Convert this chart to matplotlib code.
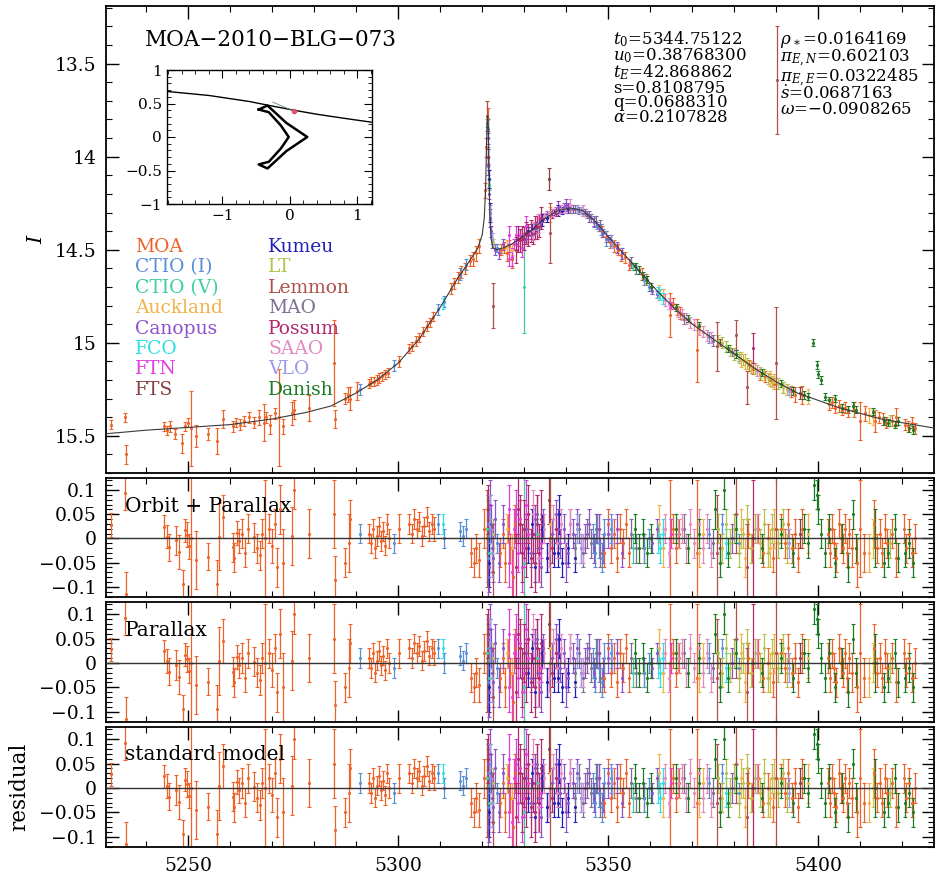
import numpy as np
import matplotlib.pyplot as plt
from matplotlib.ticker import MultipleLocator, FuncFormatter

plt.rcParams['font.family'] = 'DejaVu Serif'
plt.rcParams['mathtext.fontset'] = 'dejavuserif'

# ---- best-fit model light curve (HJD-2450000, I mag) ----
model_t = [5230, 5240, 5250, 5260, 5270, 5278, 5284, 5290, 5295, 5300,
           5305, 5310, 5314, 5317, 5319, 5320, 5320.5, 5320.8, 5321.0, 5321.15,
           5321.3, 5321.45, 5321.6, 5321.8, 5322.1, 5322.6, 5323.5, 5325, 5327, 5329,
           5332, 5335, 5338, 5341, 5344, 5347, 5350, 5354, 5358, 5362,
           5366, 5370, 5375, 5380, 5385, 5390, 5395, 5400, 5405, 5410,
           5415, 5420, 5428]
model_mag = [15.49, 15.47, 15.455, 15.44, 15.41, 15.375, 15.34, 15.27, 15.2, 15.11,
             14.98, 14.81, 14.66, 14.56, 14.49, 14.42, 14.33, 14.18, 13.98, 13.82,
             13.78, 13.83, 14.05, 14.3, 14.44, 14.49, 14.5, 14.49, 14.47, 14.44,
             14.39, 14.33, 14.29, 14.275, 14.29, 14.35, 14.43, 14.53, 14.63, 14.73,
             14.82, 14.9, 14.98, 15.06, 15.14, 15.21, 15.27, 15.31, 15.35, 15.38,
             15.41, 15.43, 15.46]

# ---- photometry per site: (t, mag, err) ----
moa_lc = [
    (5231.8, 15.44, 0.025), (5235.1, 15.40, 0.025), (5235.3, 15.60, 0.05),
    (5244.2, 15.45, 0.025), (5245.0, 15.47, 0.025), (5245.7, 15.45, 0.03), (5247.0, 15.49, 0.025),
    (5248.6, 15.54, 0.05), (5249.2, 15.45, 0.025), (5250.0, 15.43, 0.025), (5250.7, 15.46, 0.20),
    (5251.9, 15.50, 0.06), (5254.7, 15.49, 0.03), (5257.0, 15.53, 0.07), (5258.3, 15.41, 0.05),
    (5260.6, 15.45, 0.03), (5261.4, 15.43, 0.025), (5262.3, 15.44, 0.03), (5263.4, 15.42, 0.025),
    (5264.5, 15.40, 0.03), (5265.8, 15.43, 0.03), (5266.9, 15.40, 0.04), (5268.0, 15.43, 0.10),
    (5268.6, 15.40, 0.03), (5269.6, 15.44, 0.05), (5270.6, 15.38, 0.03), (5271.7, 15.40, 0.26),
    (5272.5, 15.45, 0.04), (5274.8, 15.38, 0.06), (5275.3, 15.36, 0.05), (5278.8, 15.35, 0.07),
    (5284.7, 15.11, 0.23), (5284.9, 15.41, 0.05), (5287.3, 15.30, 0.03), (5288.0, 15.28, 0.04),
    (5288.6, 15.30, 0.06), (5290.2, 15.26, 0.05),
    (5293.0, 15.22, 0.025), (5293.6, 15.21, 0.025), (5294.3, 15.21, 0.025), (5294.9, 15.20, 0.025),
    (5295.5, 15.19, 0.025), (5296.1, 15.18, 0.025), (5296.8, 15.17, 0.025), (5297.5, 15.16, 0.025),
    (5300.3, 15.10, 0.03), (5302.7, 15.03, 0.025), (5303.4, 15.02, 0.025), (5304.2, 14.99, 0.025),
    (5305.0, 14.97, 0.025), (5305.9, 14.94, 0.025), (5306.8, 14.91, 0.025), (5307.6, 14.89, 0.025),
    (5308.4, 14.86, 0.025),
    (5312.6, 14.71, 0.03), (5313.4, 14.68, 0.03), (5314.2, 14.65, 0.03), (5315.0, 14.62, 0.03),
    (5316.0, 14.60, 0.03), (5317.0, 14.56, 0.03), (5317.8, 14.55, 0.04), (5318.6, 14.52, 0.04),
    (5319.3, 14.48, 0.04), (5320.6, 14.18, 0.04), (5321.0, 13.95, 0.05), (5321.3, 13.80, 0.06),
    (5324.5, 14.50, 0.03), (5325.2, 14.49, 0.03), (5325.9, 14.52, 0.04), (5326.5, 14.48, 0.03),
    (5327.2, 14.55, 0.05),
    (5348.5, 14.40, 0.03), (5349.5, 14.43, 0.03), (5350.5, 14.46, 0.03), (5351.3, 14.48, 0.03),
    (5352.2, 14.50, 0.03), (5353.0, 14.53, 0.03), (5354.0, 14.54, 0.03), (5355.0, 14.58, 0.03),
    (5358.0, 14.63, 0.03), (5359.0, 14.66, 0.03), (5364.7, 14.85, 0.12), (5365.5, 14.79, 0.03),
    (5366.3, 14.82, 0.03), (5367.1, 14.84, 0.03), (5371.0, 15.04, 0.17),
    (5383.5, 15.12, 0.03), (5384.5, 15.14, 0.03), (5386.0, 15.17, 0.03), (5387.2, 15.18, 0.03),
    (5388.4, 15.20, 0.03), (5389.4, 15.22, 0.03), (5391.5, 15.24, 0.03), (5392.5, 15.25, 0.03),
    (5393.5, 15.26, 0.03), (5394.5, 15.28, 0.04), (5396.0, 15.28, 0.05),
    (5402.5, 15.33, 0.03), (5403.3, 15.32, 0.03), (5404.0, 15.35, 0.03), (5404.8, 15.34, 0.03),
    (5405.5, 15.36, 0.03), (5406.3, 15.35, 0.03), (5407.0, 15.37, 0.03), (5408.5, 15.36, 0.04),
    (5410.0, 15.42, 0.10), (5411.0, 15.38, 0.04), (5413.5, 15.42, 0.06), (5414.5, 15.40, 0.03),
    (5415.3, 15.41, 0.03), (5416.0, 15.43, 0.03), (5417.5, 15.42, 0.03), (5418.5, 15.40, 0.05),
    (5420.5, 15.44, 0.03), (5421.3, 15.45, 0.03), (5422.3, 15.43, 0.03), (5423.0, 15.46, 0.03),
]
ctio_i_lc = [(5291.0, 15.25, 0.03), (5299.0, 15.12, 0.03), (5309.5, 14.82, 0.03), (5311.0, 14.78, 0.03),
             (5314.8, 14.63, 0.03), (5316.2, 14.58, 0.03), (5321.3, 13.85, 0.05), (5321.5, 14.00, 0.05),
             (5323.5, 14.49, 0.02), (5346.5, 14.35, 0.02), (5347.3, 14.37, 0.02), (5348.2, 14.39, 0.03),
             (5349.4, 14.44, 0.04), (5350.6, 14.45, 0.03), (5358.5, 14.66, 0.03), (5359.8, 14.70, 0.02),
             (5374.0, 14.97, 0.03), (5381.0, 15.08, 0.02)]
ctio_v_lc = [(5321.2, 13.82, 0.02), (5321.6, 14.15, 0.03), (5329.9, 14.70, 0.25), (5333.0, 14.39, 0.02),
             (5356.0, 14.59, 0.02)]
auckland_lc = [(5326.0, 14.48, 0.03), (5327.0, 14.50, 0.03), (5336.2, 14.31, 0.04), (5362.0, 14.73, 0.04),
               (5363.0, 14.75, 0.04), (5371.5, 14.92, 0.03), (5372.5, 14.94, 0.03), (5381.5, 15.09, 0.04),
               (5382.5, 15.10, 0.04), (5388.5, 15.19, 0.04), (5389.5, 15.21, 0.04), (5397.5, 15.29, 0.04),
               (5412.0, 15.39, 0.04), (5413.0, 15.40, 0.04)]
canopus_lc = [(5321.4, 13.90, 0.03), (5321.5, 14.05, 0.05), (5321.7, 14.20, 0.03), (5321.9, 14.33, 0.05),
              (5322.1, 14.40, 0.03), (5322.3, 14.45, 0.04), (5323.0, 14.50, 0.03), (5324.0, 14.52, 0.03),
              (5325.0, 14.47, 0.03), (5330.5, 14.44, 0.02), (5331.5, 14.42, 0.02), (5332.5, 14.39, 0.02),
              (5333.0, 14.36, 0.04), (5333.5, 14.36, 0.02), (5334.0, 14.35, 0.04), (5334.5, 14.33, 0.02),
              (5335.5, 14.31, 0.02), (5336.5, 14.30, 0.02), (5337.5, 14.29, 0.02), (5338.0, 14.27, 0.03),
              (5338.5, 14.28, 0.02), (5339.5, 14.27, 0.02), (5340.0, 14.26, 0.03), (5340.5, 14.27, 0.02),
              (5341.5, 14.28, 0.02), (5342.5, 14.28, 0.02), (5343.5, 14.29, 0.02), (5344.5, 14.30, 0.02),
              (5345.5, 14.32, 0.03), (5346.5, 14.35, 0.03), (5347.8, 14.38, 0.02), (5348.8, 14.41, 0.02),
              (5350.0, 14.44, 0.02), (5352.0, 14.49, 0.03), (5353.2, 14.52, 0.03), (5360.5, 14.72, 0.02),
              (5361.5, 14.74, 0.02), (5379.5, 15.05, 0.02)]
fco_lc = [(5310.6, 14.79, 0.03), (5361.8, 14.73, 0.03), (5362.4, 14.74, 0.03), (5363.0, 14.76, 0.03),
          (5378.0, 15.02, 0.03)]
ftn_lc = [(5326.3, 14.42, 0.05), (5326.5, 14.55, 0.04), (5327.0, 14.54, 0.05), (5327.5, 14.47, 0.03),
          (5328.0, 14.42, 0.05), (5328.5, 14.45, 0.03), (5329.0, 14.42, 0.03), (5329.5, 14.49, 0.05),
          (5330.0, 14.44, 0.03), (5330.5, 14.37, 0.05), (5331.0, 14.41, 0.03), (5334.0, 14.33, 0.02),
          (5365.0, 14.80, 0.02)]
fts_lc = [(5336.0, 14.12, 0.06), (5376.5, 15.00, 0.02), (5395.5, 15.27, 0.03)]
kumeu_lc = [(5321.6, 14.12, 0.05), (5321.85, 14.30, 0.05), (5331.0, 14.40, 0.02), (5331.8, 14.39, 0.03),
            (5332.5, 14.38, 0.03), (5334.2, 14.34, 0.03), (5335.5, 14.33, 0.02), (5337.0, 14.30, 0.02),
            (5338.0, 14.29, 0.03), (5339.0, 14.29, 0.02), (5340.5, 14.28, 0.02)]
lt_lc = [(5322.5, 14.46, 0.02), (5376.0, 14.99, 0.03), (5377.0, 15.00, 0.03), (5378.0, 15.02, 0.03),
         (5379.0, 15.04, 0.03), (5380.0, 15.06, 0.03), (5381.0, 15.08, 0.03), (5382.0, 15.09, 0.03),
         (5383.0, 15.11, 0.03), (5384.0, 15.13, 0.03), (5385.0, 15.14, 0.03), (5386.0, 15.16, 0.03),
         (5387.0, 15.17, 0.03), (5388.0, 15.19, 0.03), (5389.0, 15.21, 0.03), (5390.5, 15.22, 0.03),
         (5391.5, 15.24, 0.03), (5392.5, 15.25, 0.03), (5417.0, 15.42, 0.03)]
lemmon_lc = [(5321.2, 13.78, 0.08), (5322.6, 14.80, 0.12), (5336.1, 14.41, 0.16), (5375.8, 15.02, 0.13),
             (5380.5, 14.96, 0.08), (5383.0, 15.24, 0.09), (5390.0, 15.11, 0.30), (5390.2, 13.59, 0.29)]
mao_lc = [(5341.0, 14.28, 0.02), (5342.0, 14.28, 0.02), (5343.0, 14.29, 0.02), (5344.0, 14.30, 0.02),
          (5345.0, 14.31, 0.02), (5346.0, 14.33, 0.02), (5347.0, 14.35, 0.03), (5348.0, 14.37, 0.03),
          (5355.5, 14.57, 0.03), (5356.5, 14.60, 0.03), (5368.0, 14.87, 0.03), (5375.0, 14.99, 0.03)]
possum_lc = [(5321.5, 14.00, 0.04), (5328.0, 14.50, 0.07), (5328.5, 14.44, 0.07), (5329.0, 14.45, 0.06),
             (5329.5, 14.43, 0.06), (5330.0, 14.44, 0.06), (5330.5, 14.41, 0.06), (5331.0, 14.42, 0.06),
             (5331.5, 14.40, 0.06), (5332.0, 14.41, 0.06), (5332.5, 14.38, 0.06), (5333.0, 14.38, 0.06),
             (5333.5, 14.37, 0.06), (5334.0, 14.33, 0.06), (5336.5, 14.31, 0.02), (5337.5, 14.30, 0.02),
             (5384.5, 15.03, 0.08)]
saao_lc = [(5332.0, 14.40, 0.05), (5333.2, 14.36, 0.05), (5334.8, 14.32, 0.02), (5335.8, 14.31, 0.02),
           (5336.8, 14.30, 0.02), (5337.8, 14.29, 0.02), (5338.8, 14.28, 0.02), (5339.8, 14.28, 0.02),
           (5341.0, 14.26, 0.03), (5344.0, 14.29, 0.03), (5363.5, 14.77, 0.03), (5364.5, 14.79, 0.03),
           (5366.5, 14.83, 0.03), (5367.5, 14.85, 0.03), (5368.5, 14.87, 0.03), (5369.5, 14.89, 0.03),
           (5370.5, 14.90, 0.03), (5371.5, 14.93, 0.03), (5372.5, 14.94, 0.03), (5373.5, 14.96, 0.03),
           (5374.5, 14.97, 0.03), (5385.5, 15.15, 0.03)]
vlo_lc = [(5321.8, 14.30, 0.04), (5322.3, 14.44, 0.03), (5342.5, 14.28, 0.02), (5343.5, 14.29, 0.02),
          (5351.0, 14.47, 0.02), (5393.0, 15.26, 0.02)]
danish_lc = [(5356.3, 14.59, 0.02), (5357.2, 14.61, 0.02), (5358.2, 14.64, 0.02), (5359.2, 14.66, 0.02),
             (5360.2, 14.70, 0.02), (5366.0, 14.81, 0.02), (5369.0, 14.87, 0.02), (5371.5, 14.91, 0.02),
             (5378.5, 15.03, 0.02), (5380.5, 15.06, 0.02), (5386.5, 15.16, 0.02), (5391.0, 15.22, 0.02),
             (5394.0, 15.26, 0.02), (5396.5, 15.28, 0.02), (5397.5, 15.29, 0.02), (5398.8, 15.00, 0.02),
             (5399.6, 15.12, 0.02), (5400.0, 15.17, 0.02), (5400.5, 15.20, 0.02), (5401.5, 15.29, 0.02),
             (5402.5, 15.31, 0.02), (5404.0, 15.30, 0.02), (5405.5, 15.35, 0.02), (5407.0, 15.36, 0.02),
             (5408.2, 15.34, 0.02), (5409.0, 15.36, 0.02), (5413.0, 15.37, 0.02), (5415.5, 15.42, 0.02),
             (5416.5, 15.43, 0.02), (5418.2, 15.44, 0.02), (5419.0, 15.42, 0.02), (5421.5, 15.46, 0.02),
             (5422.5, 15.47, 0.02)]

# ---- residuals per site: (t, residual, err) ----
moa_res = [
    (5231.8, 0.028, 0.024), (5235.1, 0.093, 0.035), (5235.3, -0.114, 0.045),
    (5244.2, 0.024, 0.024), (5244.9, 0.004, 0.024), (5245.5, -0.018, 0.028), (5247.2, -0.004, 0.03),
    (5247.9, -0.028, 0.035), (5248.8, -0.095, 0.03), (5249.2, 0.017, 0.024), (5249.8, 0.008, 0.026),
    (5250.2, -0.016, 0.026), (5250.7, 0.0, 0.2), (5251.9, -0.045, 0.06), (5254.7, -0.038, 0.028),
    (5256.8, -0.095, 0.05), (5257.3, 0.004, 0.07), (5258.3, 0.045, 0.045),
    (5260.6, -0.018, 0.03), (5261.0, -0.04, 0.03), (5261.6, 0.012, 0.025), (5262.2, -0.005, 0.025),
    (5262.9, 0.01, 0.03), (5263.6, -0.03, 0.03), (5264.3, 0.02, 0.03), (5265.8, 0.003, 0.03),
    (5266.5, -0.02, 0.03), (5267.1, -0.035, 0.03), (5267.7, 0.01, 0.03), (5268.4, 0.0, 0.12),
    (5269.3, 0.02, 0.03), (5270.0, -0.015, 0.035), (5270.7, 0.03, 0.03), (5271.3, -0.06, 0.04),
    (5271.8, 0.06, 0.05), (5272.5, -0.05, 0.07), (5274.8, 0.005, 0.06), (5275.3, 0.1, 0.04),
    (5278.8, 0.01, 0.05), (5284.7, 0.05, 0.07), (5284.9, -0.086, 0.05), (5287.3, -0.05, 0.03),
    (5288.2, -0.01, 0.06), (5288.6, 0.04, 0.04),
    (5293.0, 0.01, 0.02), (5293.5, -0.01, 0.02), (5294.0, 0.02, 0.02), (5294.4, -0.02, 0.02),
    (5294.9, 0.005, 0.02), (5295.4, 0.025, 0.02), (5295.9, -0.005, 0.02), (5296.4, 0.015, 0.02),
    (5296.9, -0.015, 0.02), (5297.4, 0.03, 0.02), (5297.8, 0.0, 0.02),
    (5300.3, 0.02, 0.03), (5302.7, 0.03, 0.02), (5303.2, 0.01, 0.02), (5303.8, 0.04, 0.02),
    (5304.4, 0.02, 0.02), (5305.0, 0.035, 0.02), (5305.6, 0.005, 0.02), (5306.2, 0.025, 0.02),
    (5306.8, 0.045, 0.02), (5307.4, 0.015, 0.02), (5308.0, 0.03, 0.02), (5308.5, 0.02, 0.025),
    (5317.4, -0.03, 0.03), (5318.0, -0.05, 0.03), (5318.6, -0.02, 0.03), (5319.2, -0.045, 0.035),
    (5320.5, 0.02, 0.04),
    (5324.3, -0.03, 0.03), (5324.9, 0.01, 0.03), (5325.5, -0.05, 0.04), (5326.1, 0.02, 0.03),
    (5326.7, -0.02, 0.03), (5327.3, -0.08, 0.06), (5327.8, 0.03, 0.04),
    (5347.8, 0.02, 0.03), (5349.0, -0.03, 0.03), (5350.0, 0.03, 0.03), (5350.7, -0.02, 0.03),
    (5351.4, 0.01, 0.03), (5352.1, -0.04, 0.03), (5352.8, 0.02, 0.03), (5353.5, -0.01, 0.03),
    (5354.2, 0.03, 0.03), (5354.9, -0.03, 0.03),
    (5358.5, -0.02, 0.03), (5364.7, 0.0, 0.12), (5365.4, 0.02, 0.03), (5366.1, -0.02, 0.03),
    (5366.8, 0.01, 0.03), (5371.0, -0.03, 0.15),
    (5383.2, 0.01, 0.03), (5384.2, -0.02, 0.03), (5385.6, 0.02, 0.03), (5386.8, -0.03, 0.03),
    (5388.0, 0.0, 0.03), (5389.2, -0.04, 0.03),
    (5391.2, 0.02, 0.03), (5392.0, -0.01, 0.03), (5392.8, 0.03, 0.03), (5393.6, -0.02, 0.03),
    (5394.4, 0.01, 0.03), (5395.2, -0.04, 0.03), (5396.0, 0.02, 0.04),
    (5402.3, 0.01, 0.03), (5402.8, -0.03, 0.03), (5403.3, 0.02, 0.03), (5403.8, -0.01, 0.03),
    (5404.3, -0.04, 0.03), (5404.8, 0.03, 0.03), (5405.3, 0.0, 0.03), (5405.8, -0.02, 0.03),
    (5406.3, 0.02, 0.03), (5406.8, -0.03, 0.03), (5407.3, 0.01, 0.03), (5408.0, -0.02, 0.04),
    (5409.2, -0.05, 0.05), (5410.0, 0.02, 0.1), (5410.8, -0.03, 0.04),
    (5413.3, 0.03, 0.05), (5414.0, -0.02, 0.03), (5414.6, 0.01, 0.03), (5415.2, -0.03, 0.03),
    (5415.8, 0.02, 0.03), (5416.4, -0.01, 0.03), (5417.6, 0.01, 0.03), (5418.4, -0.04, 0.04),
    (5420.3, 0.02, 0.03), (5420.9, -0.02, 0.03), (5421.6, 0.01, 0.03), (5422.3, -0.03, 0.03),
    (5423.0, 0.0, 0.03),
]
ctio_i_res = [(5291.0, 0.01, 0.02), (5299.0, -0.01, 0.02), (5309.5, 0.03, 0.02), (5311.0, 0.0, 0.02),
              (5314.8, 0.015, 0.02), (5315.5, 0.005, 0.02), (5316.2, 0.02, 0.02), (5321.3, 0.03, 0.05),
              (5321.5, -0.04, 0.05), (5323.5, -0.01, 0.02), (5346.4, 0.0, 0.03), (5346.9, -0.03, 0.03),
              (5347.4, 0.02, 0.03), (5347.9, -0.01, 0.03), (5348.4, -0.04, 0.03), (5349.0, 0.01, 0.03),
              (5350.6, 0.02, 0.03), (5358.5, -0.02, 0.03), (5359.8, 0.0, 0.02), (5374.0, 0.01, 0.03),
              (5377.0, 0.03, 0.02), (5381.0, -0.01, 0.02)]
ctio_v_res = [(5321.2, 0.02, 0.04), (5321.6, -0.03, 0.05), (5329.9, -0.05, 0.25), (5333.0, 0.01, 0.03),
              (5356.0, -0.02, 0.03)]
auckland_res = [(5326.0, 0.02, 0.03), (5327.0, -0.02, 0.03), (5336.2, 0.03, 0.04), (5362.0, 0.03, 0.04),
                (5363.0, -0.02, 0.04), (5371.5, -0.03, 0.03), (5372.5, 0.01, 0.03), (5381.5, 0.02, 0.04),
                (5382.5, -0.04, 0.04), (5388.5, -0.02, 0.04), (5389.5, 0.02, 0.04), (5397.5, 0.01, 0.04),
                (5412.0, -0.03, 0.04), (5413.0, 0.0, 0.04)]
canopus_res = [(5321.4, 0.05, 0.04), (5321.5, -0.08, 0.05), (5321.7, -0.06, 0.05), (5321.9, 0.07, 0.05),
               (5322.1, 0.03, 0.04), (5322.3, -0.02, 0.05), (5322.6, -0.04, 0.05), (5323.0, 0.04, 0.04),
               (5324.0, -0.05, 0.04), (5325.0, 0.03, 0.04), (5330.5, 0.02, 0.03), (5331.5, -0.03, 0.03),
               (5332.5, 0.04, 0.03), (5333.0, 0.05, 0.04), (5333.5, -0.02, 0.03), (5334.0, -0.06, 0.04),
               (5334.5, 0.03, 0.03), (5335.5, -0.04, 0.03), (5336.5, 0.01, 0.03), (5337.5, 0.05, 0.03),
               (5338.0, 0.02, 0.04), (5338.5, -0.01, 0.03), (5339.5, 0.02, 0.03), (5340.0, -0.05, 0.04),
               (5340.5, -0.03, 0.03), (5341.5, 0.01, 0.03), (5342.5, 0.03, 0.03), (5343.5, -0.02, 0.03),
               (5344.5, 0.0, 0.03), (5345.5, 0.03, 0.03), (5346.5, -0.02, 0.03), (5347.8, 0.02, 0.03),
               (5348.8, -0.02, 0.03), (5350.0, 0.01, 0.03), (5352.0, 0.02, 0.03), (5353.2, -0.03, 0.03),
               (5360.5, -0.01, 0.02), (5361.5, 0.02, 0.02), (5379.5, 0.0, 0.03)]
fco_res = [(5310.6, 0.03, 0.02), (5361.8, 0.0, 0.03), (5362.4, -0.02, 0.03), (5363.0, 0.01, 0.03),
           (5378.0, -0.01, 0.03)]
ftn_res = [(5326.3, 0.06, 0.05), (5326.5, -0.05, 0.05), (5327.0, -0.07, 0.05), (5327.5, 0.02, 0.04),
           (5328.0, 0.05, 0.05), (5328.5, -0.03, 0.04), (5329.0, 0.04, 0.04), (5329.5, -0.06, 0.05),
           (5330.0, -0.02, 0.04), (5330.5, 0.07, 0.05), (5331.0, 0.01, 0.04), (5334.0, -0.01, 0.03),
           (5365.0, 0.01, 0.03)]
fts_res = [(5336.0, 0.08, 0.05), (5376.5, -0.02, 0.03), (5395.5, 0.01, 0.03)]
kumeu_res = [(5321.6, -0.05, 0.05), (5321.85, 0.04, 0.05), (5331.0, -0.02, 0.03), (5331.8, 0.03, 0.03),
             (5332.5, -0.06, 0.03), (5334.2, 0.02, 0.03), (5335.5, -0.04, 0.03), (5337.0, -0.03, 0.03),
             (5338.0, -0.03, 0.03), (5338.2, 0.05, 0.04), (5339.0, -0.05, 0.03), (5340.5, -0.02, 0.03),
             (5342.0, -0.04, 0.03)]
lt_res = [(5322.5, 0.01, 0.03), (5376.0, 0.02, 0.03), (5377.0, -0.02, 0.03), (5378.0, 0.03, 0.03),
          (5379.0, -0.01, 0.03), (5380.0, 0.02, 0.03), (5381.0, -0.03, 0.03), (5382.0, 0.01, 0.03),
          (5383.0, 0.04, 0.03), (5384.0, -0.02, 0.03), (5385.0, 0.02, 0.03), (5386.0, -0.01, 0.03),
          (5387.0, 0.03, 0.03), (5388.0, -0.03, 0.03), (5389.0, 0.02, 0.03), (5390.5, -0.01, 0.03),
          (5391.5, 0.03, 0.03), (5392.5, -0.02, 0.03), (5417.0, -0.01, 0.03)]
lemmon_res = [(5321.2, 0.0, 0.1), (5322.6, -0.07, 0.1), (5336.1, 0.0, 0.15), (5375.8, -0.03, 0.12),
              (5380.5, 0.05, 0.08), (5383.0, -0.06, 0.09), (5390.0, 0.02, 0.3)]
mao_res = [(5341.0, 0.03, 0.03), (5342.0, -0.02, 0.03), (5343.0, 0.02, 0.03), (5344.0, -0.03, 0.03),
           (5345.0, 0.01, 0.03), (5346.0, -0.01, 0.03), (5347.0, 0.02, 0.03), (5348.0, -0.03, 0.03),
           (5355.5, 0.01, 0.03), (5356.5, -0.02, 0.03), (5368.0, 0.02, 0.03), (5375.0, -0.01, 0.03)]
possum_res = [(5321.5, 0.06, 0.05), (5328.0, -0.06, 0.07), (5328.5, 0.06, 0.07), (5329.0, 0.03, 0.06),
              (5329.5, -0.03, 0.06), (5330.0, 0.02, 0.06), (5330.5, -0.02, 0.06), (5331.0, 0.05, 0.06),
              (5331.5, -0.04, 0.06), (5332.0, 0.01, 0.06), (5332.5, -0.05, 0.06), (5333.0, 0.03, 0.06),
              (5333.5, -0.03, 0.06), (5334.0, 0.04, 0.06), (5336.5, -0.02, 0.03), (5337.5, 0.02, 0.03),
              (5384.5, 0.0, 0.12)]
saao_res = [(5332.0, 0.05, 0.05), (5333.2, -0.04, 0.05), (5334.8, 0.02, 0.03), (5335.8, -0.03, 0.03),
            (5336.8, 0.04, 0.03), (5337.8, -0.01, 0.03), (5338.8, 0.03, 0.03), (5339.8, -0.02, 0.03),
            (5341.0, 0.03, 0.03), (5344.0, -0.02, 0.03), (5363.5, 0.02, 0.03), (5364.5, -0.03, 0.03),
            (5366.5, 0.01, 0.03), (5367.5, 0.02, 0.03), (5368.5, -0.02, 0.03), (5369.5, 0.03, 0.03),
            (5370.5, -0.01, 0.03), (5371.5, 0.03, 0.03), (5372.5, -0.02, 0.03), (5373.5, 0.02, 0.03),
            (5374.5, -0.03, 0.03), (5385.5, 0.02, 0.03)]
vlo_res = [(5321.8, 0.04, 0.05), (5322.3, -0.03, 0.05), (5342.5, 0.02, 0.03), (5343.5, -0.02, 0.03),
           (5351.0, 0.01, 0.03), (5393.0, -0.01, 0.03)]
danish_res = [(5356.3, 0.02, 0.03), (5357.2, -0.02, 0.03), (5358.2, 0.01, 0.03), (5359.2, -0.03, 0.03),
              (5360.2, 0.0, 0.03), (5366.0, 0.02, 0.03), (5369.0, -0.02, 0.03), (5371.5, 0.01, 0.03),
              (5375.5, 0.06, 0.04), (5376.5, -0.05, 0.03), (5377.5, 0.1, 0.04), (5378.5, -0.03, 0.03),
              (5380.5, 0.02, 0.03), (5386.5, -0.02, 0.03), (5391.0, 0.01, 0.03), (5394.0, -0.03, 0.03),
              (5396.5, 0.02, 0.03), (5397.5, -0.01, 0.03), (5399.0, 0.11, 0.03), (5399.6, 0.09, 0.03),
              (5400.0, 0.06, 0.03), (5400.5, 0.01, 0.03), (5401.5, -0.03, 0.03), (5402.5, 0.02, 0.03),
              (5404.0, -0.05, 0.03), (5405.5, 0.0, 0.03), (5407.0, -0.06, 0.03), (5408.2, 0.05, 0.03),
              (5409.0, -0.02, 0.03), (5413.5, 0.0, 0.06), (5415.5, -0.05, 0.03), (5416.5, -0.03, 0.03),
              (5418.2, 0.02, 0.03), (5419.0, -0.04, 0.03), (5420.5, -0.03, 0.03), (5421.5, -0.01, 0.03),
              (5422.5, -0.05, 0.03)]

# site name, colour, light curve, residuals
sites = [
    ("MOA", "#EE6428", moa_lc, moa_res),
    ("CTIO (I)", "#5A8FD8", ctio_i_lc, ctio_i_res),
    ("CTIO (V)", "#3FCF9A", ctio_v_lc, ctio_v_res),
    ("Auckland", "#F2B248", auckland_lc, auckland_res),
    ("Canopus", "#8C52C8", canopus_lc, canopus_res),
    ("FCO", "#2EE0E6", fco_lc, fco_res),
    ("FTN", "#E23DE0", ftn_lc, ftn_res),
    ("FTS", "#8A3F3F", fts_lc, fts_res),
    ("Kumeu", "#2121B8", kumeu_lc, kumeu_res),
    ("LT", "#B5C24A", lt_lc, lt_res),
    ("Lemmon", "#B0504A", lemmon_lc, lemmon_res),
    ("MAO", "#7E6E92", mao_lc, mao_res),
    ("Possum", "#B02A6E", possum_lc, possum_res),
    ("SAAO", "#E58ABF", saao_lc, saao_res),
    ("VLO", "#9A9AE8", vlo_lc, vlo_res),
    ("Danish", "#1B7A24", danish_lc, danish_res),
]

# source trajectory and caustic for the inset
traj_x = [-1.82, -1.2, -0.6, -0.3, 0.06, 0.4, 0.8, 1.22]
traj_y = [0.68, 0.62, 0.53, 0.47, 0.40, 0.34, 0.28, 0.22]
caustic_x = [-0.46, -0.33, -0.05, 0.26, -0.05, -0.33, -0.46, -0.31, -0.13, -0.015, -0.13, -0.31, -0.46]
caustic_y = [0.41, 0.47, 0.21, 0.0, -0.21, -0.47, -0.41, -0.37, -0.17, 0.0, 0.17, 0.37, 0.41]

params_left = [r"$t_0$=5344.75122", r"$u_0$=0.38768300", r"$t_E$=42.868862",
               "s=0.8108795", "q=0.0688310", r"$\alpha$=0.2107828"]
params_right = [r"$\rho_\ast$=0.0164169", r"$\pi_{E,N}$=0.602103", r"$\pi_{E,E}$=0.0322485",
                r"$\dot{s}$=0.0687163", "$\\omega$=\u22120.0908265"]
panel_names = ["Orbit + Parallax", "Parallax", "standard model"]

W, H = 935, 875
fig = plt.figure(figsize=(W / 100, H / 100), dpi=100)


def px(x0, y0, x1, y1):
    return [x0 / W, 1 - y1 / H, (x1 - x0) / W, (y1 - y0) / H]


def fmt(v, pos):
    v = round(v, 4)
    if v == 0:
        return "0"
    return f"{v:g}".replace("-", "\u2212")


def style(ax):
    for s in ax.spines.values():
        s.set_linewidth(1.3)
    ax.tick_params(which="both", direction="in", top=True, right=True, labelsize=13.5, pad=7)
    ax.tick_params(which="major", length=9, width=1.0)
    ax.tick_params(which="minor", length=4, width=0.8)
    ax.xaxis.set_major_locator(MultipleLocator(50))
    ax.xaxis.set_minor_locator(MultipleLocator(10))
    ax.yaxis.set_major_formatter(FuncFormatter(fmt))


def draw(ax, pts, color):
    a = np.array(pts)
    ax.errorbar(a[:, 0], a[:, 1], yerr=a[:, 2], fmt=".", ms=2.5, color=color,
                ecolor=color, elinewidth=0.9, capsize=1.6, capthick=0.8)


xlim = (5230.5, 5427.5)

# main light-curve panel
ax = fig.add_axes(px(106, 6, 934, 473))
for name, col, lc, res in sites:
    draw(ax, lc, col)
ax.plot(model_t, model_mag, color="#3a3a3a", lw=0.8, zorder=5)
ax.set_xlim(*xlim)
ax.set_ylim(15.70, 13.19)
ax.yaxis.set_major_locator(MultipleLocator(0.5))
ax.yaxis.set_minor_locator(MultipleLocator(0.1))
style(ax)
ax.tick_params(labelbottom=False)
ax.set_ylabel("I", fontstyle="italic", fontsize=15, labelpad=6)

fig.text(145 / W, 1 - 40 / H, "MOA\u22122010\u2212BLG\u2212073", fontsize=15.5, va="center")
fig.text(613 / W, 1 - 29 / H, "\n".join(params_left), fontsize=12, va="top", linespacing=0.82)
fig.text(780 / W, 1 - 29 / H, "\n".join(params_right), fontsize=12, va="top", linespacing=0.82)

for i, (name, col, lc, res) in enumerate(sites):
    x = 135 if i < 8 else 268
    y = 247 + 20.4 * (i % 8)
    fig.text(x / W, 1 - y / H, name, color=col, fontsize=13.5, va="center")

# inset: source trajectory across the caustic
ins = fig.add_axes(px(167, 70, 372, 204))
ins.plot(traj_x, traj_y, color="black", lw=1.0)
ins.plot([-0.25, 0.1], [0.52, 0.37], color="#5a8a6a", lw=0.6)
ins.plot(caustic_x, caustic_y, color="black", lw=1.8)
ins.plot([0.06], [0.39], "o", color="#E0506A", ms=3)
ins.set_xlim(-1.82, 1.22)
ins.set_ylim(-1, 1)
ins.xaxis.set_major_locator(MultipleLocator(1))
ins.xaxis.set_minor_locator(MultipleLocator(0.2))
ins.yaxis.set_major_locator(MultipleLocator(0.5))
ins.yaxis.set_minor_locator(MultipleLocator(0.1))
ins.tick_params(which="both", direction="in", top=True, right=True, labelsize=11)
ins.tick_params(which="major", length=6, width=0.8)
ins.tick_params(which="minor", length=3, width=0.6)
ins.xaxis.set_major_formatter(FuncFormatter(fmt))
ins.yaxis.set_major_formatter(FuncFormatter(fmt))
for s in ins.spines.values():
    s.set_linewidth(1.0)

# residual panels
bounds = [(478, 597), (602, 722), (727, 847)]
for k, (y0, y1) in enumerate(bounds):
    r = fig.add_axes(px(106, y0, 934, y1))
    for name, col, lc, res in sites:
        draw(r, res, col)
    r.axhline(0, color="#333333", lw=1.0, zorder=5)
    r.set_xlim(*xlim)
    r.set_ylim(-0.121, 0.125)
    r.yaxis.set_major_locator(MultipleLocator(0.05))
    r.yaxis.set_minor_locator(MultipleLocator(0.01))
    style(r)
    r.text(125 / W, 1 - (y0 + 28) / H, panel_names[k], transform=fig.transFigure,
           fontsize=14.5, va="center", zorder=6)
    if k < 2:
        r.tick_params(labelbottom=False)
    else:
        r.set_ylabel("residual", fontsize=15.5, labelpad=6)

fig.savefig("out.png", dpi=100)
